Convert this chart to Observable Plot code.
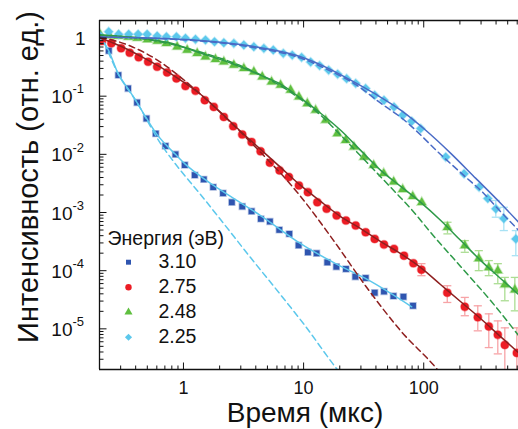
<!DOCTYPE html>
<html><head><meta charset="utf-8">
<script src="https://cdn.jsdelivr.net/npm/d3@7"></script>
<script src="https://cdn.jsdelivr.net/npm/@observablehq/plot@0.6"></script>
<style>body{margin:0;background:#fff}svg{display:block}</style>
</head><body><div id="chart"></div>
<script>
// ---- data (time in µs, intensity in rel. units) ----
const energies = ["3.10", "2.75", "2.48", "2.25"];

const t310 = [0.203,0.239,0.287,0.346,0.411,0.492,0.588,0.708,0.858,1.025,1.242,1.476,1.768,2.134,2.527,3.085,3.687,4.408,5.24,6.274,7.6,9.085,10.86,12.83,15.76,18.73,22.52,26.97,32.86,39.06,46.69,55.92,67.74,81.45];
const v310 = [1.0,0.604,0.230,0.136,0.0778,0.0413,0.0227,0.0139,0.0100,0.00654,0.00439,0.00371,0.00273,0.00215,0.0015,0.00127,0.00105,0.000778,0.0007,0.000503,0.000429,0.000273,0.000207,0.000199,0.000139,0.000117,0.000107,0.0000788,0.0000748,0.0000418,0.0000439,0.0000366,0.0000356,0.0000249];
const fitT310 = [0.2197,0.2371,0.287,0.348,0.4136,0.4916,0.5843,0.7079,0.8577,1.039,1.259,1.679,2.465,4.383,9.441,18.48,34.15,79.43];
const fitV310 = [0.820,0.621,0.2394,0.132,0.0757,0.0418,0.0239,0.0149,0.0100,0.00672,0.00489,0.00316,0.00189,0.000888,0.000292,0.000132,0.00007,0.0000239];
const dashT310 = [0.2197,0.287,0.4136,0.5309,0.6431,0.779,0.9441,1.144,1.386,2.034,3.617,6.432,10,19.2,22.39];
const dashV310 = [0.820,0.2394,0.0757,0.0304,0.01548,0.00888,0.0053,0.00329,0.00204,0.000757,0.000168,0.0000386,0.0000122,0.00000196,0.00000132];

const t275 = [0.2094,0.2512,0.3026,0.3568,0.424,0.508,0.6037,0.7313,0.8743,1.039,1.259,1.505,1.788,2.167,2.596,3.085,3.687,4.383,5.24,6.31,7.542,9.138,10.86,13.01,15.55,18.84,22.52,27.13,32.86,39.06,46.69,56.57,68.53,82.09,95.68,157,219.7,281.8,348.1,413.6,473.2,595.7];
const v275 = [0.888,0.810,0.665,0.558,0.465,0.390,0.320,0.256,0.202,0.149,0.1234,0.0853,0.0654,0.0439,0.0304,0.0219,0.0163,0.01126,0.00719,0.0053,0.00406,0.00292,0.00224,0.0015,0.00116,0.000888,0.000728,0.000597,0.000457,0.000352,0.000281,0.000237,0.000181,0.000134,0.000104,0.0000418,0.0000239,0.0000158,0.000011,0.00000788,0.0000053,0.00000386];
const errT275 = [95.68,157,219.7,281.8,348.1,413.6,473.2,595.7];
const errLo275 = [0.000082,0.0000284,0.0000168,0.00000924,0.00000476,0.00000371,0.00000174,0.00000174];
const errHi275 = [0.000132,0.0000551,0.0000347,0.0000249,0.0000181,0.0000137,0.0000104,0.0000104];
const fitT275 = [0.2034,0.2985,0.4383,0.6431,0.9441,1.386,2.034,2.985,4.383,6.432,9.441,13.86,20.34,29.85,43.83,64.32,94.41,138.6,203.4,298.5,438.3,619.1];
const fitV275 = [1.0,0.728,0.489,0.316,0.189,0.108,0.053,0.0249,0.0122,0.00597,0.00292,0.00155,0.000853,0.00053,0.000316,0.000196,0.000113,0.0000574,0.0000292,0.0000149,0.00000728,0.00000386];
const dashT275 = [0.2034,0.3617,0.6431,0.9441,1.386,2.465,4.383,7.792,9.441,17.78,34.15,64.32,130.9,152.5];
const dashV275 = [1.04,0.728,0.386,0.2127,0.108,0.0356,0.01083,0.00304,0.00189,0.000329,0.0000489,0.00000924,0.00000196,0.00000132];

const t248 = [0.2034,0.2417,0.2872,0.348,0.4136,0.5012,0.6072,0.7216,0.886,1.073,1.301,1.525,1.848,2.167,2.626,3.18,3.853,4.527,5.412,6.432,7.792,9.138,10.74,12.59,15.26,19.1,22.39,26.26,31.81,38.31,46.42,56.23,66.83,80.97,96.23,157.6,219.7,287.3,348.1,413.6,473.2,573.4];
const v248 = [1.126,1.104,1.083,1.04,1.0,0.942,0.888,0.810,0.708,0.621,0.545,0.476,0.429,0.390,0.342,0.300,0.262,0.215,0.176,0.155,0.127,0.0973,0.0748,0.0574,0.0386,0.0227,0.0174,0.0134,0.00898,0.00646,0.0047,0.00336,0.00249,0.00189,0.00149,0.000558,0.00027,0.000161,0.000113,0.0001,0.0000574,0.000047];
const errT248 = [157.6,219.7,287.3,348.1,413.6,473.2,573.4];
const errLo248 = [0.000429,0.000207,0.0001,0.000082,0.0000597,0.0000304,0.0000204];
const errHi248 = [0.00068,0.000329,0.000221,0.000149,0.000132,0.0000766,0.0000766];
const fitT248 = [0.2034,0.4383,0.779,1.386,2.465,4.383,6.432,9.441,13.86,20.34,29.85,43.83,64.32,94.41,138.6,203.4,298.5,438.3,619.1];
const fitV248 = [1.126,1.0,0.820,0.551,0.371,0.230,0.161,0.0924,0.0509,0.0259,0.0117,0.0053,0.00281,0.00149,0.000728,0.000329,0.000149,0.0000728,0.0000386];
const dashT248 = [0.2034,0.5309,1.386,3.617,7.792,13.86,22.39,36.17,56.23,77.94,114.4,203.4,361.6,619.1];
const dashV248 = [1.126,0.924,0.574,0.281,0.117,0.047,0.0174,0.00621,0.00239,0.00117,0.000452,0.000117,0.0000304,0.00000757];

const t225 = [0.2034,0.2385,0.2889,0.35,0.4192,0.4982,0.6037,0.7216,0.8743,1.039,1.259,1.525,1.813,2.167,2.626,3.18,3.853,4.669,5.592,6.774,8.049,9.624,11.44,13.59,16.16,19.2,22.82,27.13,32.86,39.06,46.69,56.57,66.83,79.43,94.41,152.5,216.7,288.9,341.5,398.1,464.2,584.3];
const v225 = [1.083,1.284,1.158,1.158,1.158,1.158,1.083,1.053,1.053,0.988,0.950,0.924,0.863,0.830,0.810,0.757,0.708,0.665,0.621,0.545,0.509,0.465,0.386,0.3356,0.281,0.2394,0.2003,0.166,0.136,0.104,0.0853,0.0654,0.047,0.0371,0.0277,0.00898,0.00465,0.00273,0.00174,0.00116,0.000788,0.000352];
const errT225 = [398.1,464.2,584.3];
const errLo225 = [0.00083,0.000489,0.000181];
const errHi225 = [0.00161,0.00123,0.000489];
const fitT225 = [0.2034,0.5309,1.386,3.617,9.441,15.26,24.65,39.81,64.32,103.9,167.9,271.3,438.3,619.1];
const fitV225 = [1.04,1.0,0.906,0.728,0.476,0.316,0.189,0.108,0.0574,0.0259,0.0104,0.00386,0.00143,0.000672];
const dashT225 = [0.2034,1.386,3.617,9.441,16.79,27.65,43.83,64.32,146.8,215.4,316.2,398.1,619.1];
const dashV225 = [1.04,0.888,0.700,0.452,0.270,0.155,0.0757,0.0434,0.00888,0.00434,0.00213,0.00127,0.000489];

// axis ticks & labels
const xDomain = [0.2, 615];
const yDomain = [2e-6, 2];
const xMajor = [1, 10, 100];
const xTickLabels = ["1", "10", "100"];
const yMajor = [1, 1e-1, 1e-2, 1e-3, 1e-4, 1e-5];
const yTickBase = ["1", "10", "10", "10", "10", "10"];
const yTickExp = ["", "-1", "-2", "-3", "-4", "-5"];
const xTitle = "Время (мкс)";
const yTitle = "Интенсивность (отн. ед.)";
const legendTitle = "Энергия (эВ)";

// ---- build ----
const zip = (t, v) => t.map((d, i) => ({t: d, v: v[i]}));
const zipErr = (t, lo, hi) => t.map((d, i) => ({t: d, lo: lo[i], hi: hi[i]}));
const minorOf = (lo, hi) => { const out = []; for (let e = -6; e <= 3; e++) for (let m = 2; m <= 9; m++) { const v = m * Math.pow(10, e); if (v >= lo * 0.999 && v <= hi * 1.001) out.push(v); } return out; };
const xMinor = minorOf(xDomain[0], xDomain[1]);
const yMinor = minorOf(yDomain[0], yDomain[1]);

const capSymbol = {draw(ctx, size) { const w = Math.sqrt(size); ctx.moveTo(-w, 0); ctx.lineTo(w, 0); }};
const tickSym = (dx, dy) => ({draw(ctx) { ctx.moveTo(0, 0); ctx.lineTo(dx, dy); }});

const styles = [
  {symbol: "square", r: 3.3, fill: "#2f55b0", line: "#5cc8ec", err: null, lr: 2.8},
  {symbol: "circle", r: 4, fill: "#ec1c24", line: "#8e1f1f", err: "#f7a3a6", lr: 3.2},
  {symbol: "triangle", r: 3.4, fill: "#5fbf3f", line: "#2e9a48", err: "#abdd92", lr: 3.0},
  {symbol: "diamond2", r: 4, fill: "#5cc8ec", line: "#4a6bc6", err: "#a8e2f4", lr: 3.2}
];
const pts = [zip(t310, v310), zip(t275, v275), zip(t248, v248), zip(t225, v225)];
const fits = [zip(fitT310, fitV310), zip(fitT275, fitV275), zip(fitT248, fitV248), zip(fitT225, fitV225)];
const dashes = [zip(dashT310, dashV310), zip(dashT275, dashV275), zip(dashT248, dashV248), zip(dashT225, dashV225)];
const errs = [null, zipErr(errT275, errLo275, errHi275), zipErr(errT248, errLo248, errHi248), zipErr(errT225, errLo225, errHi225)];

const marks = [];
// error bars
errs.forEach((e, i) => {
  if (!e) return;
  const c = styles[i].err;
  marks.push(Plot.ruleX(e, {x: "t", y1: "lo", y2: "hi", stroke: c, strokeWidth: 1.3, clip: true}));
  marks.push(Plot.dot(e, {x: "t", y: "hi", symbol: capSymbol, r: 2.3, stroke: c, strokeWidth: 1.3, clip: true}));
  marks.push(Plot.dot(e, {x: "t", y: "lo", symbol: capSymbol, r: 2.3, stroke: c, strokeWidth: 1.3, clip: true}));
});
// points
pts.forEach((p, i) => {
  const s = styles[i];
  marks.push(Plot.dot(p, {x: "t", y: "v", symbol: s.symbol, r: s.r, fill: s.fill, stroke: s.fill, strokeOpacity: 0.35, strokeWidth: 1.6, clip: true}));
});
// fits
fits.forEach((f, i) => {
  marks.push(Plot.line(f, {x: "t", y: "v", stroke: styles[i].line, strokeWidth: 1.5, curve: "monotone-x", clip: true}));
});
dashes.forEach((f, i) => {
  marks.push(Plot.line(f, {x: "t", y: "v", stroke: styles[i].line, strokeWidth: 1.5, strokeDasharray: "6,4", curve: "monotone-x", clip: true}));
});
// frame (left, top, bottom)
marks.push(Plot.ruleX([xDomain[0]], {stroke: "#111", strokeWidth: 1.3}));
marks.push(Plot.ruleY([yDomain[0]], {stroke: "#111", strokeWidth: 1.3}));
marks.push(Plot.ruleY([yDomain[1]], {stroke: "#111", strokeWidth: 1.3}));
// inward ticks
const tk = {stroke: "#111", strokeWidth: 1, fill: "none"};
marks.push(Plot.dot(xMajor, {x: d => d, frameAnchor: "bottom", symbol: tickSym(0, -7), ...tk}));
marks.push(Plot.dot(xMinor, {x: d => d, frameAnchor: "bottom", symbol: tickSym(0, -4), ...tk}));
marks.push(Plot.dot(xMajor, {x: d => d, frameAnchor: "top", symbol: tickSym(0, 7), ...tk}));
marks.push(Plot.dot(xMinor, {x: d => d, frameAnchor: "top", symbol: tickSym(0, 4), ...tk}));
marks.push(Plot.dot(yMajor, {y: d => d, frameAnchor: "left", symbol: tickSym(7, 0), ...tk}));
marks.push(Plot.dot(yMinor, {y: d => d, frameAnchor: "left", symbol: tickSym(4, 0), ...tk}));
// tick labels
marks.push(Plot.text(xMajor.map((v, i) => ({v, label: xTickLabels[i]})), {x: "v", text: "label", frameAnchor: "bottom", dy: 18.5, lineAnchor: "middle", textAnchor: "middle", fontSize: 18, fill: "#111"}));
const yLab = yMajor.map((v, i) => ({v, base: yTickBase[i], exp: yTickExp[i]}));
marks.push(Plot.text(yLab.filter(d => !d.exp), {y: "v", text: "base", frameAnchor: "left", dx: -14, dy: 1, textAnchor: "end", lineAnchor: "middle", fontSize: 19, fill: "#111"}));
marks.push(Plot.text(yLab.filter(d => d.exp), {y: "v", text: "base", frameAnchor: "left", dx: -27, dy: 1, textAnchor: "end", lineAnchor: "middle", fontSize: 19, fill: "#111"}));
marks.push(Plot.text(yLab.filter(d => d.exp), {y: "v", text: "exp", frameAnchor: "left", dx: -27, dy: -7, textAnchor: "start", lineAnchor: "middle", fontSize: 13, fill: "#111"}));
// titles
marks.push(Plot.text([yTitle], {frameAnchor: "left", dx: -71, dy: -18, rotate: -90, textAnchor: "middle", lineAnchor: "middle", fontSize: 29, fill: "#111"}));
marks.push(Plot.text([xTitle], {frameAnchor: "bottom", dx: -4, dy: 44, textAnchor: "middle", lineAnchor: "middle", fontSize: 28, fill: "#111"}));
// legend
marks.push(Plot.text([legendTitle], {frameAnchor: "top-left", dx: 8, dy: 218, textAnchor: "start", lineAnchor: "middle", fontSize: 19.5, fill: "#111"}));
energies.forEach((e, i) => {
  const s = styles[i];
  marks.push(Plot.dot([e], {frameAnchor: "top-left", dx: 29, dy: 241.7 + 25 * i, symbol: s.symbol, r: s.lr, fill: s.fill}));
  marks.push(Plot.text([e], {frameAnchor: "top-left", dx: 59, dy: 241.7 + 25 * i, text: d => d, textAnchor: "start", lineAnchor: "middle", fontSize: 19.5, fill: "#111"}));
});

const chart = Plot.plot({
  width: 518, height: 429,
  marginLeft: 99, marginRight: 0, marginTop: 20, marginBottom: 60,
  x: {type: "log", domain: xDomain, axis: null},
  y: {type: "log", domain: yDomain, axis: null},
  style: {fontFamily: "'Liberation Sans', Arial, Helvetica, sans-serif", background: "white", overflow: "visible", color: "#111"},
  marks
});
document.getElementById("chart").appendChild(chart);
</script>
</body></html>
